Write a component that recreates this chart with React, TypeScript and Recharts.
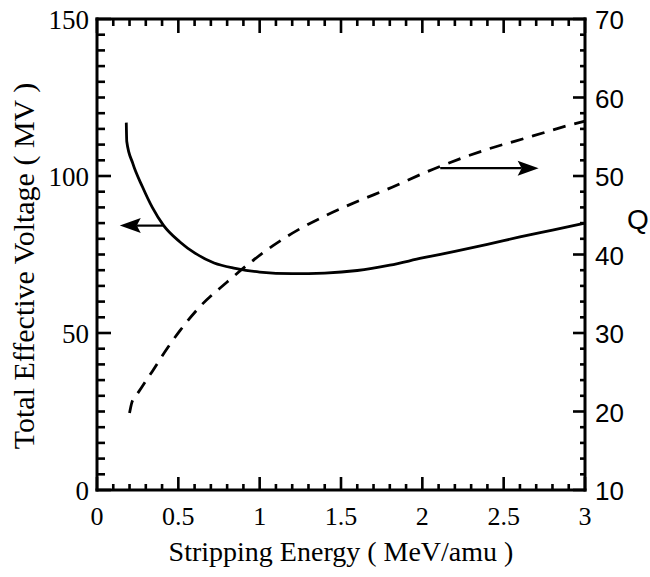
import { LineChart, Line, XAxis, YAxis, ReferenceLine } from "recharts";

// solid curve: total effective voltage (MV), left axis
const energySolid = [0.18, 0.183, 0.22, 0.28, 0.34, 0.41, 0.51, 0.6, 0.72, 0.85, 1.0, 1.2, 1.4, 1.6, 1.8, 2.0, 2.2, 2.4, 2.6, 2.8, 3.0];
const voltage = [117, 111, 104, 96.5, 90, 84.2, 79, 75.5, 72.3, 70.6, 69.4, 68.9, 69.1, 69.9, 71.6, 73.9, 76, 78.2, 80.6, 82.8, 85];

// dashed curve: charge state Q, right axis
const energyDashed = [0.2, 0.215, 0.24, 0.275, 0.33, 0.43, 0.51, 0.63, 0.8, 0.92, 1.08, 1.25, 1.41, 1.64, 1.76, 2.07, 2.37, 2.68, 2.89, 3.0];
const chargeQ = [19.8, 21.2, 22.0, 23.1, 24.8, 28.0, 30.3, 33.3, 36.5, 38.6, 41.1, 43.3, 45.0, 47.1, 48.1, 50.9, 53.2, 55.1, 56.4, 57.0];

const xTicks = [0, 0.1, 0.2, 0.3, 0.4, 0.5, 0.6, 0.7, 0.8, 0.9, 1, 1.1, 1.2, 1.3, 1.4, 1.5, 1.6, 1.7, 1.8, 1.9, 2, 2.1, 2.2, 2.3, 2.4, 2.5, 2.6, 2.7, 2.8, 2.9, 3];
const xLabels = [0, 0.5, 1, 1.5, 2, 2.5, 3];
const voltTicks = [0, 5, 10, 15, 20, 25, 30, 35, 40, 45, 50, 55, 60, 65, 70, 75, 80, 85, 90, 95, 100, 105, 110, 115, 120, 125, 130, 135, 140, 145, 150];
const voltLabels = [0, 50, 100, 150];
const qTicks = [10, 12, 14, 16, 18, 20, 22, 24, 26, 28, 30, 32, 34, 36, 38, 40, 42, 44, 46, 48, 50, 52, 54, 56, 58, 60, 62, 64, 66, 68, 70];
const qLabels = [10, 20, 30, 40, 50, 60, 70];

// arrows pointing to each curve's axis (data units)
const leftArrow = { from: 0.405, to: 0.14, level: 84.2 };
const rightArrow = { from: 2.11, to: 2.715, level: 51.0 };

const SERIF = '"Liberation Serif", "Times New Roman", serif';
const SANS = '"Liberation Sans", Arial, sans-serif';

const solidData = energySolid.map((x, i) => ({ x, v: voltage[i] }));
const dashedData = energyDashed.map((x, i) => ({ x, q: chargeQ[i] }));

const isIn = (list: number[], v: number) => list.some((t) => Math.abs(t - v) < 1e-6);

// axis tick components only write the numbers; the marks are drawn as reference lines
function BottomTick({ x, y, payload }: any) {
  if (!isIn(xLabels, payload.value)) return <g />;
  return (
    <text x={x} y={y + 35} textAnchor="middle" fontFamily={SERIF} fontSize={26} fill="#000">
      {payload.value}
    </text>
  );
}

function LeftTick({ x, y, payload }: any) {
  if (!isIn(voltLabels, payload.value)) return <g />;
  return (
    <text x={x - 8} y={y + 10} textAnchor="end" fontFamily={SERIF} fontSize={27} fill="#000">
      {payload.value}
    </text>
  );
}

function RightTick({ x, y, payload }: any) {
  if (!isIn(qLabels, payload.value)) return <g />;
  return (
    <text x={x + 10} y={y + 10} textAnchor="start" fontFamily={SANS} fontSize={26} fill="#000">
      {payload.value}
    </text>
  );
}

const TW = 2.6; // tick thickness

// inward tick marks on bottom + top frame
const xMark = (major: boolean) => (p: any) => {
  const top = Math.min(p.y1, p.y2);
  const bottom = Math.max(p.y1, p.y2);
  const lb = major ? 13 : 6;
  const lt = major ? 14 : 7;
  return (
    <g>
      <rect x={p.x1 - TW / 2} y={bottom - lb} width={TW} height={lb} fill="#000" />
      <rect x={p.x1 - TW / 2} y={top} width={TW} height={lt} fill="#000" />
    </g>
  );
};

const leftMark = (len: number) => (p: any) => {
  const left = Math.min(p.x1, p.x2);
  return <rect x={left} y={p.y1 - TW / 2} width={len} height={TW} fill="#000" />;
};

const rightMark = (len: number) => (p: any) => {
  const right = Math.max(p.x1, p.x2);
  return <rect x={right - len} y={p.y1 - TW / 2} width={len} height={TW} fill="#000" />;
};

function arrowShape(props: any) {
  const { x1, y1, x2, y2 } = props;
  const dir = Math.sign(x2 - x1);
  const head = 21;
  const half = 7.5;
  const bx = x2 - dir * head;
  return (
    <g>
      <line x1={x1} y1={y1} x2={bx + dir * 4} y2={y2} stroke="#000" strokeWidth={2.2} />
      <polygon
        points={`${x2},${y2} ${bx},${y2 - half} ${bx + dir * 4},${y2} ${bx},${y2 + half}`}
        fill="#000"
      />
    </g>
  );
}

const axisLine = { stroke: "#000", strokeWidth: 3, strokeLinecap: "square" as const };

export default function App() {
  return (
    <div style={{ position: "absolute", left: 0, top: 0, background: "#fff" }}>
      <LineChart width={650} height={577} margin={{ top: 18, right: 0, bottom: 0, left: 0 }}>
        <XAxis
          dataKey="x"
          type="number"
          domain={[0, 3]}
          ticks={xTicks}
          interval={0}
          height={87}
          tickSize={0}
          tickMargin={0}
          tickLine={false}
          axisLine={axisLine}
          tick={<BottomTick />}
          label={{
            content: () => (
              <text x={341} y={561} textAnchor="middle" fontFamily={SERIF} fontSize={28} fill="#000">
                Stripping Energy ( MeV/amu )
              </text>
            ),
          }}
        />
        <XAxis
          xAxisId="top"
          dataKey="x"
          type="number"
          orientation="top"
          domain={[0, 3]}
          ticks={[]}
          height={1}
          tickLine={false}
          tick={false}
          axisLine={axisLine}
        />
        <YAxis
          yAxisId="left"
          type="number"
          domain={[0, 150]}
          ticks={voltTicks}
          interval={0}
          width={97}
          tickSize={0}
          tickMargin={0}
          tickLine={false}
          axisLine={axisLine}
          tick={<LeftTick />}
          label={{
            content: () => (
              <text
                x={34}
                y={266}
                transform="rotate(-90, 34, 266)"
                textAnchor="middle"
                fontFamily={SERIF}
                fontSize={30}
                fill="#000"
              >
                Total Effective Voltage ( MV )
              </text>
            ),
          }}
        />
        <YAxis
          yAxisId="right"
          orientation="right"
          type="number"
          domain={[10, 70]}
          ticks={qTicks}
          interval={0}
          width={65}
          tickSize={0}
          tickMargin={0}
          tickLine={false}
          axisLine={axisLine}
          tick={<RightTick />}
          label={{
            content: () => (
              <text x={638} y={229} textAnchor="middle" fontFamily={SANS} fontSize={28} fill="#000">
                Q
              </text>
            ),
          }}
        />

        {xTicks.map((t) => (
          <ReferenceLine key={`xt${t}`} x={t} yAxisId="left" shape={xMark(isIn(xLabels, t))} />
        ))}
        {voltTicks.map((t) => (
          <ReferenceLine key={`vt${t}`} y={t} yAxisId="left" shape={leftMark(isIn(voltLabels, t) ? 14 : 8)} />
        ))}
        {qTicks.map((t) => (
          <ReferenceLine key={`qt${t}`} y={t} yAxisId="right" shape={rightMark(isIn(qLabels, t) ? 12 : 5)} />
        ))}

        <Line
          yAxisId="left"
          data={solidData}
          dataKey="v"
          type="monotoneX"
          stroke="#000"
          strokeWidth={2.8}
          dot={false}
          isAnimationActive={false}
        />
        <Line
          yAxisId="right"
          data={dashedData}
          dataKey="q"
          type="monotoneX"
          stroke="#000"
          strokeWidth={2.8}
          strokeDasharray="13 9"
          dot={false}
          isAnimationActive={false}
        />
        <ReferenceLine
          yAxisId="left"
          segment={[
            { x: leftArrow.from, y: leftArrow.level },
            { x: leftArrow.to, y: leftArrow.level },
          ]}
          shape={arrowShape}
        />
        <ReferenceLine
          yAxisId="right"
          segment={[
            { x: rightArrow.from, y: rightArrow.level },
            { x: rightArrow.to, y: rightArrow.level },
          ]}
          shape={arrowShape}
        />
      </LineChart>
    </div>
  );
}
